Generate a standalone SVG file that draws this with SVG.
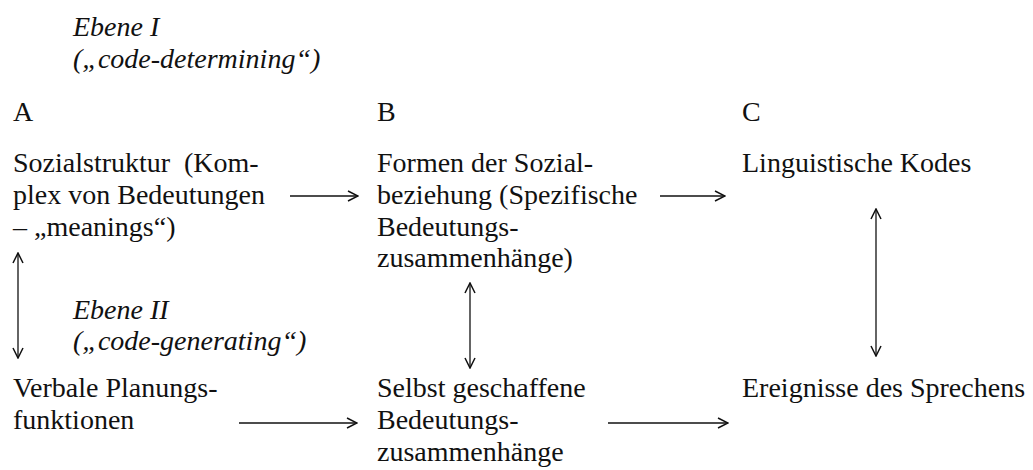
<svg xmlns="http://www.w3.org/2000/svg" width="1033" height="470" viewBox="0 0 1033 470">
<style>
text{font-family:"Liberation Serif","Times New Roman",serif;font-size:28px;fill:#111}
.it{font-style:italic}
.c{stroke:#111;stroke-width:1.3;fill:none}
</style>
<defs>
<marker id="ah" viewBox="0 0 12 12" refX="11" refY="6" markerWidth="12" markerHeight="12" markerUnits="userSpaceOnUse" orient="auto-start-reverse">
<path d="M1,1 L11,6 L1,11" fill="none" stroke="#111" stroke-width="1.5"/>
</marker>
</defs>
<g id="ebene1">
<text class="it" x="73" y="36">Ebene I</text>
<text class="it" x="73" y="68">(„code-determining“)</text>
</g>
<g id="headA"><text x="13" y="121">A</text></g>
<g id="headB"><text x="377" y="121">B</text></g>
<g id="headC"><text x="742" y="121">C</text></g>
<g id="sozialstruktur">
<text x="13" y="172">Sozialstruktur <tspan x="184">(Kom-</tspan></text>
<text x="13" y="204">plex von Bedeutungen</text>
<text x="13" y="236">– „meanings“)</text>
</g>
<g id="formen">
<text x="377" y="172">Formen der Sozial-</text>
<text x="377" y="204">beziehung (Spezifische</text>
<text x="377" y="236">Bedeutungs-</text>
<text x="377" y="267">zusammenhänge)</text>
</g>
<g id="kodes"><text x="742" y="172">Linguistische Kodes</text></g>
<g id="ebene2">
<text class="it" x="73" y="319">Ebene II</text>
<text class="it" x="73" y="350">(„code-generating“)</text>
</g>
<g id="verbale">
<text x="13" y="397">Verbale Planungs-</text>
<text x="13" y="429">funktionen</text>
</g>
<g id="selbst">
<text x="377" y="397">Selbst geschaffene</text>
<text x="377" y="429">Bedeutungs-</text>
<text x="377" y="461">zusammenhänge</text>
</g>
<g id="ereignisse"><text x="742" y="397">Ereignisse des Sprechens</text></g>
<g id="connectors">
<line class="c" x1="290" y1="196" x2="358" y2="196" marker-end="url(#ah)"/>
<line class="c" x1="660" y1="196" x2="725" y2="196" marker-end="url(#ah)"/>
<line class="c" x1="239" y1="423" x2="357" y2="423" marker-end="url(#ah)"/>
<line class="c" x1="608" y1="423" x2="728" y2="423" marker-end="url(#ah)"/>
<line class="c" x1="18" y1="253" x2="18" y2="358" marker-start="url(#ah)" marker-end="url(#ah)"/>
<line class="c" x1="470" y1="283" x2="470" y2="368" marker-start="url(#ah)" marker-end="url(#ah)"/>
<line class="c" x1="876" y1="209" x2="876" y2="356" marker-start="url(#ah)" marker-end="url(#ah)"/>
</g>
</svg>
